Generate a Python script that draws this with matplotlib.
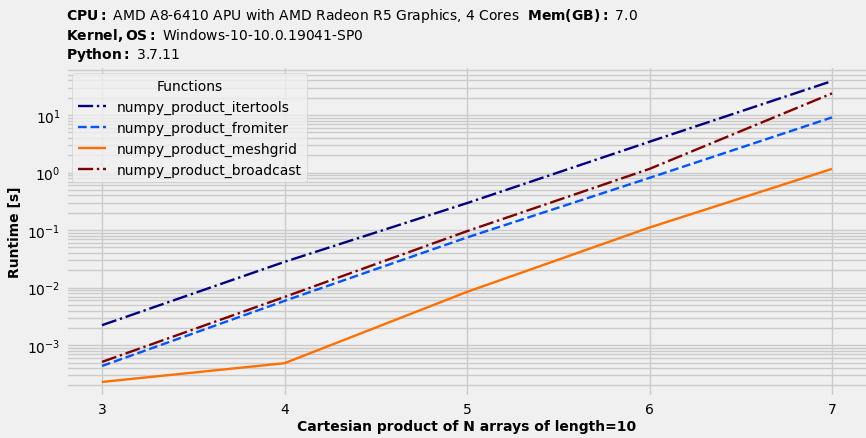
import matplotlib
matplotlib.use("Agg")
import matplotlib.pyplot as plt

plt.style.use("fivethirtyeight")

# --- benchmark data ---
n_arrays = [3, 4, 5, 6, 7]
functions = ["numpy_product_itertools", "numpy_product_fromiter",
             "numpy_product_meshgrid", "numpy_product_broadcast"]
runtime_itertools = [2.23e-3, 2.81e-2, 0.295, 3.44, 39.0]
runtime_fromiter = [4.36e-4, 5.9e-3, 7.46e-2, 0.81, 9.1]
runtime_meshgrid = [2.3e-4, 4.87e-4, 8.45e-3, 0.111, 1.16]
runtime_broadcast = [5.13e-4, 6.9e-3, 9.6e-2, 1.16, 23.8]

runtimes = [runtime_itertools, runtime_fromiter, runtime_meshgrid, runtime_broadcast]
colors = ["#000080", "#0055ff", "#ff7000", "#800000"]
styles = ["-.", "--", "-", "-."]

fig = plt.figure(figsize=(8.66, 4.39), dpi=100)
fig.patch.set_facecolor("#f0f0f0")
ax = fig.add_axes([65.5 / 866, 1 - 398 / 439, 803 / 866, 331 / 439])

for name, vals, col, ls in zip(functions, runtimes, colors, styles):
    ax.plot(n_arrays, vals, ls, color=col, lw=1.7, label=name)

ax.set_yscale("log")
ax.set_xticks(n_arrays)
ax.grid(True, which="both", axis="y", color="#cbcbcb", lw=1)
ax.grid(True, which="major", axis="x", color="#cbcbcb", lw=1)
ax.tick_params(labelsize=10)

ax.set_xlabel("Cartesian product of N arrays of length=10", fontsize=10,
              fontweight="bold", labelpad=2)
ax.set_ylabel("Runtime [s]", fontsize=10, fontweight="bold")

ax.legend(title="Functions", fontsize=10, title_fontsize=10, loc="upper left")

title = ("$\\bf{CPU:}$ AMD A8-6410 APU with AMD Radeon R5 Graphics, 4 Cores  "
         "$\\bf{Mem(GB):}$ 7.0\n"
         "$\\bf{Kernel, OS:}$ Windows-10-10.0.19041-SP0\n"
         "$\\bf{Python:}$ 3.7.11")
ax.set_title(title, loc="left", fontsize=10, linespacing=1.15, pad=6)

fig.savefig("out.png", dpi=100, facecolor=fig.get_facecolor())
